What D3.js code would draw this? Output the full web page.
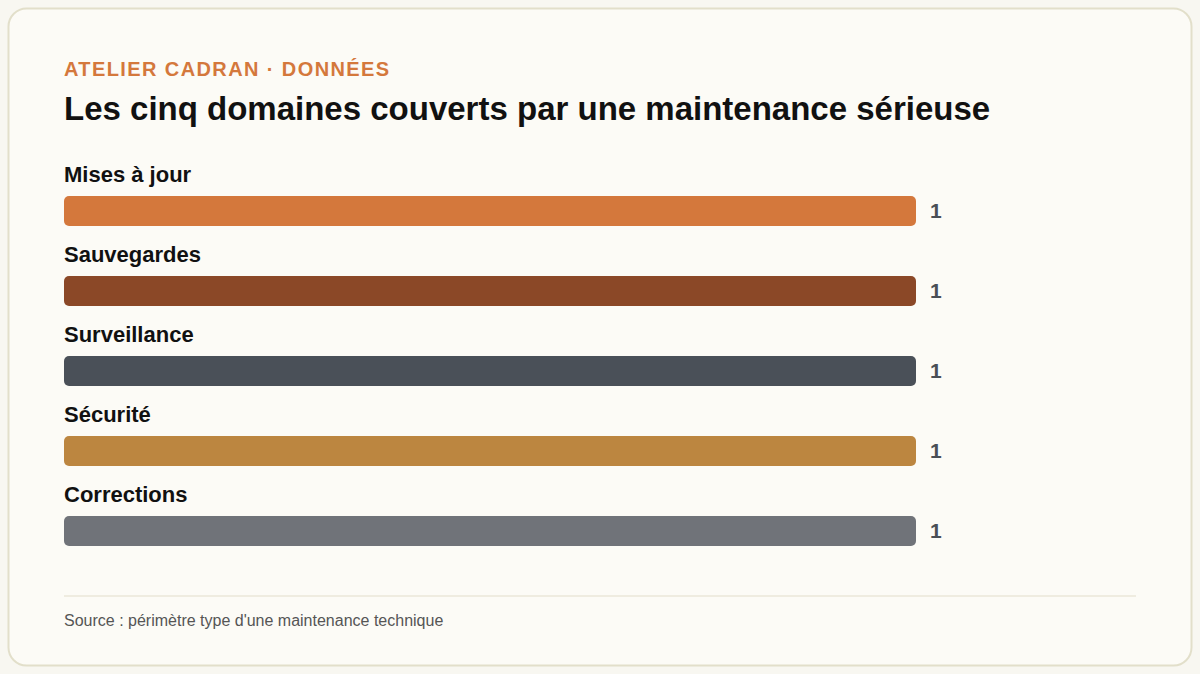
<!DOCTYPE html>
<html><head><meta charset="utf-8">
<script src="https://cdn.jsdelivr.net/npm/d3@7"></script>
<style>body{margin:0;background:#f8f7f1;}svg{display:block;font-family:"Liberation Sans",Arial,sans-serif;}</style>
</head><body><svg id="c" width="1200" height="674"></svg>
<script>
const categories = ["Mises à jour","Sauvegardes","Surveillance","Sécurité","Corrections"];
const values = [1,1,1,1,1];
const colors = ["#d4783c","#8b4827","#4a5058","#bc8640","#707379"];
const svg = d3.select("#c");
svg.append("rect").attr("x",8.5).attr("y",8.5).attr("width",1183).attr("height",657).attr("rx",18)
  .attr("fill","#fcfbf6").attr("stroke","#e2dfca").attr("stroke-width",2);
svg.append("text").attr("x",64).attr("y",76).text("ATELIER CADRAN · DONNÉES")
  .attr("fill","#d4783c").attr("font-size",20).attr("font-weight",700).attr("letter-spacing",1.4);
svg.append("text").attr("x",64).attr("y",120).text("Les cinq domaines couverts par une maintenance sérieuse")
  .attr("fill","#111").attr("font-size",33).attr("font-weight",700);
const x = d3.scaleLinear().domain([0,1]).range([64,916]);
const y = d3.scaleBand().domain(categories).range([156,556]);
const g = svg.selectAll("g.row").data(categories).join("g").attr("class","row")
  .attr("transform",d=>`translate(0,${y(d)})`);
g.append("text").attr("x",64).attr("y",26).text(d=>d).attr("font-size",22).attr("font-weight",700).attr("fill","#111");
g.append("rect").attr("x",x(0)).attr("y",40).attr("height",30).attr("rx",5)
  .attr("width",(d,i)=>x(values[i])-x(0)).attr("fill",(d,i)=>colors[i]);
g.append("text").attr("x",(d,i)=>x(values[i])+14).attr("y",62).text((d,i)=>values[i])
  .attr("font-size",21).attr("font-weight",700).attr("fill","#4a4f55");
svg.append("line").attr("x1",64).attr("x2",1136).attr("y1",596).attr("y2",596).attr("stroke","#ebe7d8").attr("stroke-width",1.5);
svg.append("text").attr("x",64).attr("y",626).text("Source : périmètre type d'une maintenance technique")
  .attr("font-size",16).attr("fill","#555");
</script></body></html>
